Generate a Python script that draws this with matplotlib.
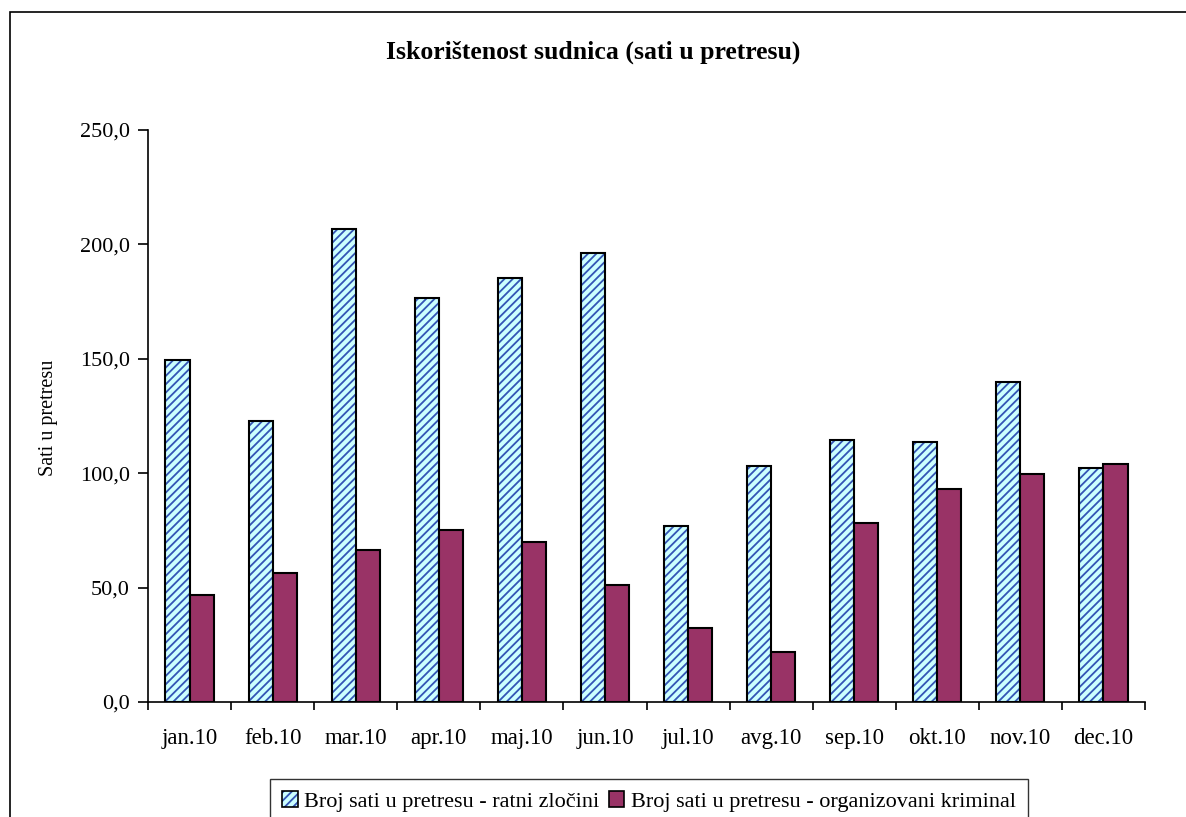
import numpy as np
import matplotlib
matplotlib.use("Agg")
import matplotlib.pyplot as plt
from matplotlib.patches import Rectangle, Patch
from matplotlib.ticker import FixedLocator, FuncFormatter

months = ["jan.10", "feb.10", "mar.10", "apr.10", "maj.10", "jun.10",
          "jul.10", "avg.10", "sep.10", "okt.10", "nov.10", "dec.10"]
ratni = [149.5, 122.9, 206.6, 176.7, 185.3, 196.4, 76.9, 103.1, 114.4, 113.6, 140.0, 102.4]
organizovani = [46.6, 56.2, 66.4, 75.0, 69.9, 51.1, 32.5, 22.0, 78.4, 93.1, 99.7, 104.0]
yticks = [0, 50, 100, 150, 200, 250]

title = "Iskorištenost sudnica (sati u pretresu)"
ylabel = "Sati u pretresu"
label_r = "Broj sati u pretresu - ratni zločini"
label_o = "Broj sati u pretresu - organizovani kriminal"

plt.rcParams['font.family'] = ['Liberation Serif', 'DejaVu Serif']
plt.rcParams['hatch.linewidth'] = 1.3

W, H = 1186, 817
fig = plt.figure(figsize=(W / 100, H / 100), dpi=100)
fig.patch.set_facecolor('white')
ax = fig.add_axes([148 / W, 115 / H, (1145 - 148) / W, (702 - 130) / H])

x = np.arange(len(months))
w = 0.29
cyan = '#CCFFFF'
hatchc = '#3355B5'
plum = '#993366'
# hatched fill (hatch takes edge colour), then black outline on top
ax.bar(x - w / 2, ratni, w, color=cyan, edgecolor=hatchc, linewidth=0,
       hatch='////')
ax.bar(x - w / 2, ratni, w, fill=False, edgecolor='black', linewidth=1.5)
ax.bar(x + w / 2, organizovani, w, color=plum, edgecolor='black', linewidth=1.5)

ax.set_xlim(-0.5, len(months) - 0.5)
ax.set_ylim(0, 250)
ax.set_yticks(yticks)
ax.yaxis.set_major_formatter(FuncFormatter(lambda v, p: f"{v:.1f}".replace('.', ',')))
ax.set_xticks(x)
ax.set_xticklabels(months)
ax.xaxis.set_minor_locator(FixedLocator(np.arange(-0.5, len(months), 1.0)))
ax.tick_params(axis='x', which='major', length=0, pad=19, labelsize=16.5)
ax.tick_params(axis='x', which='minor', length=6, width=1.2, direction='out')
ax.tick_params(axis='y', length=7, width=1.2, direction='out', pad=6, labelsize=16)

for s in ['top', 'right']:
    ax.spines[s].set_visible(False)
for s in ['left', 'bottom']:
    ax.spines[s].set_linewidth(1.2)

ax.set_ylabel(ylabel, fontsize=14.5)
ax.yaxis.set_label_coords(-90 / (1145 - 148), (702 - 418) / (702 - 130))

fig.text(593 / W, 1 - 52 / H, title, ha='center', va='center',
         fontsize=18.5, fontweight='bold')

h_r = (Patch(facecolor=cyan, edgecolor=hatchc, hatch='////', linewidth=0),
       Patch(fill=False, edgecolor='black', linewidth=1.2))
h_o = Patch(facecolor=plum, edgecolor='black', linewidth=1.2)
leg = fig.legend([h_r, h_o], [label_r, label_o], loc='upper center',
                 bbox_to_anchor=(649 / W, 1 - 779 / H), ncol=2, fontsize=16,
                 frameon=True, fancybox=False, edgecolor='black',
                 handlelength=0.7, handleheight=0.7, handletextpad=0.3,
                 columnspacing=0.4, borderpad=0.55, borderaxespad=0)
leg.get_frame().set_linewidth(1.0)

frame = Rectangle((10 / W, -0.2), 1.5, 1.2 - 12 / H, transform=fig.transFigure,
                  fill=False, edgecolor='black', linewidth=1.2, clip_on=False)
fig.patches.append(frame)

fig.savefig("out.png", dpi=100)
